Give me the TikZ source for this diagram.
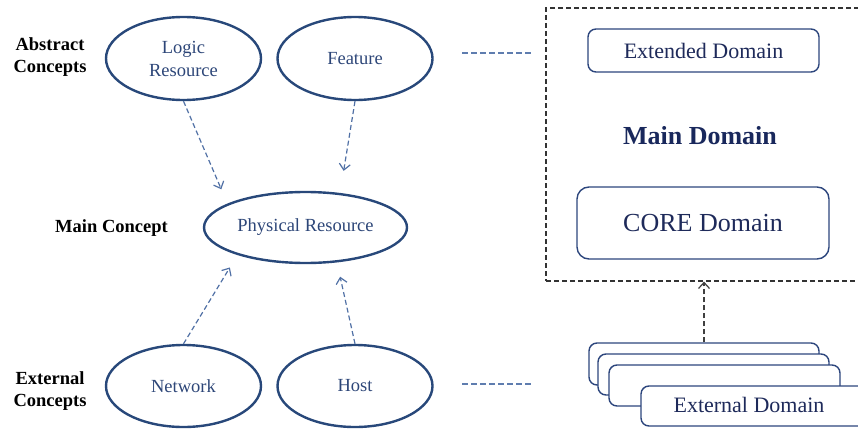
\documentclass[tikz,border=0pt]{standalone}
\usepackage{fontspec}
\setmainfont{Liberation Serif}
\usetikzlibrary{shapes.geometric,arrows.meta,calc}
\definecolor{ellline}{RGB}{40,72,122}
\definecolor{elltext}{RGB}{45,70,120}
\definecolor{boxline}{RGB}{45,70,125}
\definecolor{boxtext}{RGB}{30,42,90}
\definecolor{maintext}{RGB}{25,40,92}
\definecolor{arrcol}{RGB}{80,112,165}
\definecolor{hcol}{RGB}{95,125,175}
\begin{document}
\begin{tikzpicture}[x=1pt,y=-1pt,
  concept/.style={ellipse, draw=ellline, line width=2.4pt, inner sep=0pt, text=elltext,
    font=\fontsize{18.5}{23}\selectfont, align=center, minimum width=155pt, minimum height=83pt},
  lbl/.style={font=\bfseries\fontsize{18.5}{22}\selectfont, align=center, inner sep=0pt},
  dombox/.style={draw=boxline, line width=1.4pt, rounded corners=8pt, fill=white, text=boxtext,
    font=\fontsize{22}{26}\selectfont, inner sep=0pt},
  relarrow/.style={draw=arrcol, line width=1.2pt, dash pattern=on 5pt off 3pt,
    -{Straight Barb[length=6pt,width=11pt]}},
  hline/.style={draw=hcol, line width=1.2pt, dash pattern=on 6pt off 3pt},
  stackarrow/.style={draw=black!75, line width=1.2pt, dash pattern=on 5pt off 3pt,
    -{Straight Barb[length=6pt,width=11pt]}}
]
\useasboundingbox (0,0) rectangle (858,428);

% left labels
\node[lbl] (labs) at (50,57) {Abstract\\Concepts};
\node[lbl] (lmain) at (111.5,228) {Main Concept};
\node[lbl] (lext) at (50,391) {External\\Concepts};

% ellipses
\node[concept] (logic) at (183.5,58.5) {Logic\\Resource};
\node[concept] (feature) at (355,58.5) {Feature};
\node[concept, minimum width=203pt, minimum height=71pt] (phys) at (305.5,227.5) {Physical Resource};
\node[concept, minimum height=82pt] (network) at (183.5,386) {Network};
\node[concept, minimum height=82pt] (host) at (355,386) {Host};

% arrows
\draw[relarrow, shorten >=15.6pt] (logic.south) -- (phys.163);
\draw[relarrow, shorten >=22.4pt] (feature.south) -- (phys.45);
\draw[relarrow, shorten >=14.6pt] (network.north) -- (phys.202);
\draw[relarrow, shorten >=14.6pt] (host.north) -- (phys.312);

% horizontal dashed lines
\coordinate (h1a) at (462,53);
\coordinate (h1b) at (532,53);
\coordinate (h2a) at (462,384);
\coordinate (h2b) at (532,384);
\draw[hline] (h1a) -- (h1b);
\draw[hline] (h2a) -- (h2b);

% main domain dashed box
\node[draw=black!80, line width=1.2pt, dash pattern=on 5pt off 3pt, minimum width=324pt,
  minimum height=273pt, inner sep=0pt] (maindom) at (708,144.5) {};
\node[dombox, minimum width=231pt, minimum height=43pt] (extended) at (703.5,50.5) {Extended Domain};
\node[font=\bfseries\fontsize{26}{30}\selectfont, text=maintext] (maintitle) at (700,136) {Main Domain};
\node[dombox, rounded corners=12pt, minimum width=252pt, minimum height=72pt,
  font=\fontsize{26}{30}\selectfont] (core) at (703,223) {CORE Domain};

% stack of external domains
\node[dombox, minimum width=230pt, minimum height=42pt] (ext1) at (704,364) {};
\node[dombox, minimum width=231pt, minimum height=41pt] (ext2) at (713.5,374.5) {};
\node[dombox, minimum width=231pt, minimum height=41pt] (ext3) at (724.5,385.5) {};
\node[dombox, minimum width=230pt, minimum height=40pt] (ext4) at (756,406) {};
\node[text=boxtext, font=\fontsize{22}{26}\selectfont] (exttext) at (749,405) {External Domain};

\draw[stackarrow] (ext1.north) -- (ext1.north |- maindom.south);
\end{tikzpicture}
\end{document}
